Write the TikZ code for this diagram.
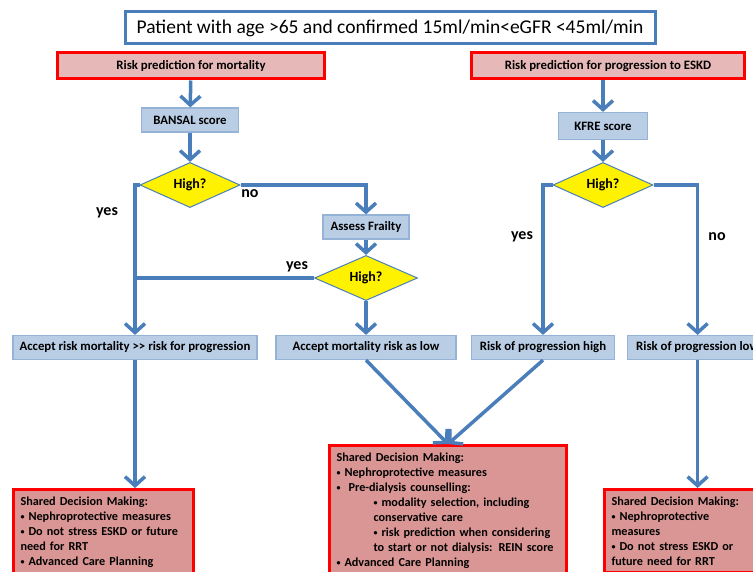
\documentclass[tikz,border=0pt]{standalone}
\usepackage{fontspec}
\setmainfont{Carlito}
\usetikzlibrary{shapes.geometric,arrows.meta}
\definecolor{flowblue}{HTML}{4A7EBB}
\definecolor{boxblue}{HTML}{B9CDE5}
\definecolor{boxline}{HTML}{95B3D7}
\definecolor{riskpink}{HTML}{E6B9B8}
\definecolor{sdmpink}{HTML}{D99694}
\newcommand\sdmdot{{\fontsize{8}{8}\selectfont\raisebox{0.5pt}{•}}}
\tikzset{
  every node/.style={font=\bfseries\fontsize{12.8}{15}\selectfont},
  titlebox/.style={draw=flowblue, line width=3, fill=white, minimum width=530, minimum height=32,
    font=\fontsize{19.5}{22}\selectfont},
  riskbox/.style={draw=red, line width=3, fill=riskpink, minimum height=26},
  scorebox/.style={draw=boxline, line width=1.2, fill=boxblue, minimum height=24, inner sep=5},
  decision/.style={diamond, draw=flowblue, line width=1, fill=yellow, minimum width=100,
    minimum height=36, inner sep=0, font=\bfseries\fontsize{14}{16}\selectfont},
  sdmbox/.style={draw=red, line width=3, fill=sdmpink, anchor=north west, align=left, inner sep=7,
    font=\bfseries\fontsize{12.2}{15}\selectfont},
  lbl/.style={font=\bfseries\fontsize{16}{18}\selectfont},
  flow/.style={flowblue, line width=3.5, -{Straight Barb[length=9,width=20,line width=3.5]}},
  link/.style={flowblue, line width=3.5},
}
\begin{document}
\begin{tikzpicture}[x=1pt, y=-1pt]
  \useasboundingbox (0,0) rectangle (753,572);
  \clip (0,0) rectangle (753,572);
  \node[titlebox] (title) at (390,28) {Patient with age >65 and confirmed 15ml/min<eGFR <45ml/min};
  \node[riskbox, minimum width=267] (riskmort) at (191,66) {Risk prediction for mortality};
  \node[riskbox, minimum width=273] (riskprog) at (608,66) {Risk prediction for progression to ESKD};
  \node[scorebox, minimum width=97] (bansal) at (190,120) {BANSAL score};
  \node[scorebox, minimum width=89, minimum height=27] (kfre) at (603,126) {KFRE score};
  \node[decision] (highmort) at (190,185) {High?};
  \node[scorebox, minimum width=86] (frailty) at (366,227) {Assess Frailty};
  \node[decision, minimum width=103, minimum height=31] (highfrail) at (366,278) {High?};
  \node[decision] (highprog) at (603,185) {High?};
  \node[scorebox, minimum width=244] (acceptmort) at (135,347.5) {Accept risk mortality {>}{>} risk for progression};
  \node[scorebox, minimum width=180] (acceptlow) at (366,347.5) {Accept mortality risk as low};
  \node[scorebox, minimum width=143] (proghigh) at (543,347.5) {Risk of progression high};
  \node[scorebox, minimum width=140, anchor=west] (proglow) at (627,347.5) {Risk of progression low};
  \node[sdmbox, text width=166] (sdmleft) at (12,488) {Shared Decision Making:\\
    \sdmdot\ Nephroprotective measures\\
    \sdmdot\ Do not stress ESKD or future\\
    need for RRT\\
    \sdmdot\ Advanced Care Planning};
  \node[sdmbox, text width=223] (sdmmid) at (328,444) {Shared Decision Making:\\
    \sdmdot\ Nephroprotective measures\\
    \sdmdot\ \ Pre-dialysis counselling:\\
    \hspace*{37pt}\sdmdot\ modality selection, including\\
    \hspace*{37pt}conservative care\\
    \hspace*{37pt}\sdmdot\ risk prediction when considering\\
    \hspace*{37pt}to start or not dialysis: REIN score\\
    \sdmdot\ Advanced Care Planning};
  \node[sdmbox, text width=160] (sdmright) at (603,488) {Shared Decision Making:\\
    \sdmdot\ Nephroprotective\\
    measures\\
    \sdmdot\ Do not stress ESKD or\\
    future need for RRT};
  \node[lbl] (yesmort) at (107,213) {yes};
  \node[lbl] (nomort) at (250,194) {no};
  \node[lbl] (yesfrail) at (297,267) {yes};
  \node[lbl] (yesprog) at (522,237) {yes};
  \node[lbl] (noprog) at (717,237) {no};
  \begin{scope}
    \draw[flow] (riskmort) -- (bansal);
    \draw[flow] (bansal) -- (highmort);
    \draw[flow] (highmort.west) -| (acceptmort);
    \draw[flow] (highmort.east) -| (frailty);
    \draw[flow] (frailty) -- (highfrail);
    \draw[link] (highfrail.west) -- (highfrail.west -| acceptmort);
    \draw[flow] (highfrail) -- (acceptlow);
    \draw[flow] (riskprog.south -| kfre) -- (kfre);
    \draw[flow] (kfre) -- (highprog);
    \draw[flow] (highprog.west) -| (proghigh);
    \draw[flow] (highprog.east) -| (proglow);
    \draw[flow] (acceptmort.south) -- (acceptmort.south |- sdmleft.north);
    \draw[flow] (acceptlow.south) -- (sdmmid.north);
    \draw[flow] (proghigh.south) -- (sdmmid.north);
    \draw[flow] (proglow.south) -- (proglow.south |- sdmright.north);
  \end{scope}
\end{tikzpicture}
\end{document}
